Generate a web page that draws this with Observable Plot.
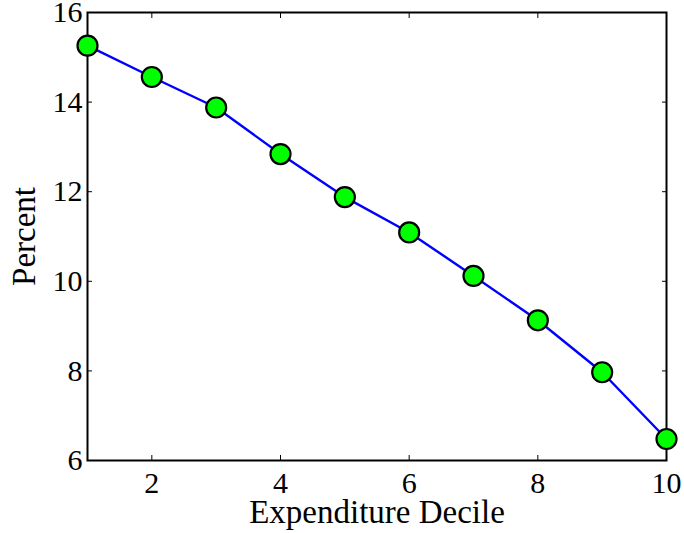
<!DOCTYPE html>
<html>
<head>
<meta charset="utf-8">
<script src="https://cdn.jsdelivr.net/npm/d3@7"></script>
<script src="https://cdn.jsdelivr.net/npm/@observablehq/plot@0.6"></script>
<style>
  html, body { margin: 0; padding: 0; background: #fff; }
  svg { display: block; }
</style>
</head>
<body>
<div id="chart"></div>
<script>
const deciles = [1, 2, 3, 4, 5, 6, 7, 8, 9, 10];
const percents = [15.26, 14.56, 13.88, 12.84, 11.88, 11.09, 10.12, 9.13, 7.97, 6.48];
const xTicks = [2, 4, 6, 8, 10];
const yTicks = [6, 8, 10, 12, 14, 16];
const xLabel = "Expenditure Decile";
const yLabel = "Percent";

const data = deciles.map((d, i) => ({decile: d, percent: percents[i]}));

const chart = Plot.plot({
  width: 684,
  height: 533,
  marginLeft: 87,
  marginRight: 18,
  marginTop: 12,
  marginBottom: 73,
  x: {domain: [1, 10]},
  y: {domain: [6, 16]},
  style: {fontFamily: "'Liberation Serif', 'Times New Roman', serif", fontSize: "30px", color: "black", background: "white", overflow: "visible"},
  marks: [
    // inner ticks
    Plot.axisX({anchor: "bottom", ticks: xTicks, tickSize: -5, text: null, label: null, stroke: "black", strokeWidth: 1}),
    Plot.axisX({anchor: "top", ticks: xTicks, tickSize: -5, text: null, label: null, stroke: "black", strokeWidth: 1}),
    Plot.axisY({anchor: "left", ticks: yTicks, tickSize: -5, text: null, label: null, stroke: "black", strokeWidth: 1}),
    Plot.axisY({anchor: "right", ticks: yTicks, tickSize: -5, text: null, label: null, stroke: "black", strokeWidth: 1}),
    // tick labels
    Plot.axisX({anchor: "bottom", ticks: xTicks, tickSize: 0, tickPadding: 11, label: null, tickFormat: d => String(d), fill: "black"}),
    Plot.axisY({anchor: "left", ticks: yTicks, tickSize: 0, tickPadding: 5, label: null, tickFormat: d => String(d), fill: "black"}),
    Plot.frame({stroke: "black", strokeWidth: 2}),
    Plot.line(data, {x: "decile", y: "percent", stroke: "#0000ff", strokeWidth: 2.4}),
    Plot.dot(data, {x: "decile", y: "percent", r: 10, fill: "#00ff00", stroke: "black", strokeWidth: 2.2}),
    Plot.text([xLabel], {frameAnchor: "bottom", text: d => d, dy: 62, lineAnchor: "bottom", fill: "black", fontSize: 33}),
    Plot.text([yLabel], {frameAnchor: "left", textAnchor: "middle", text: d => d, rotate: -90, dx: -76, lineAnchor: "top", fill: "black", fontSize: 33})
  ]
});
document.getElementById("chart").appendChild(chart);
</script>
</body>
</html>
